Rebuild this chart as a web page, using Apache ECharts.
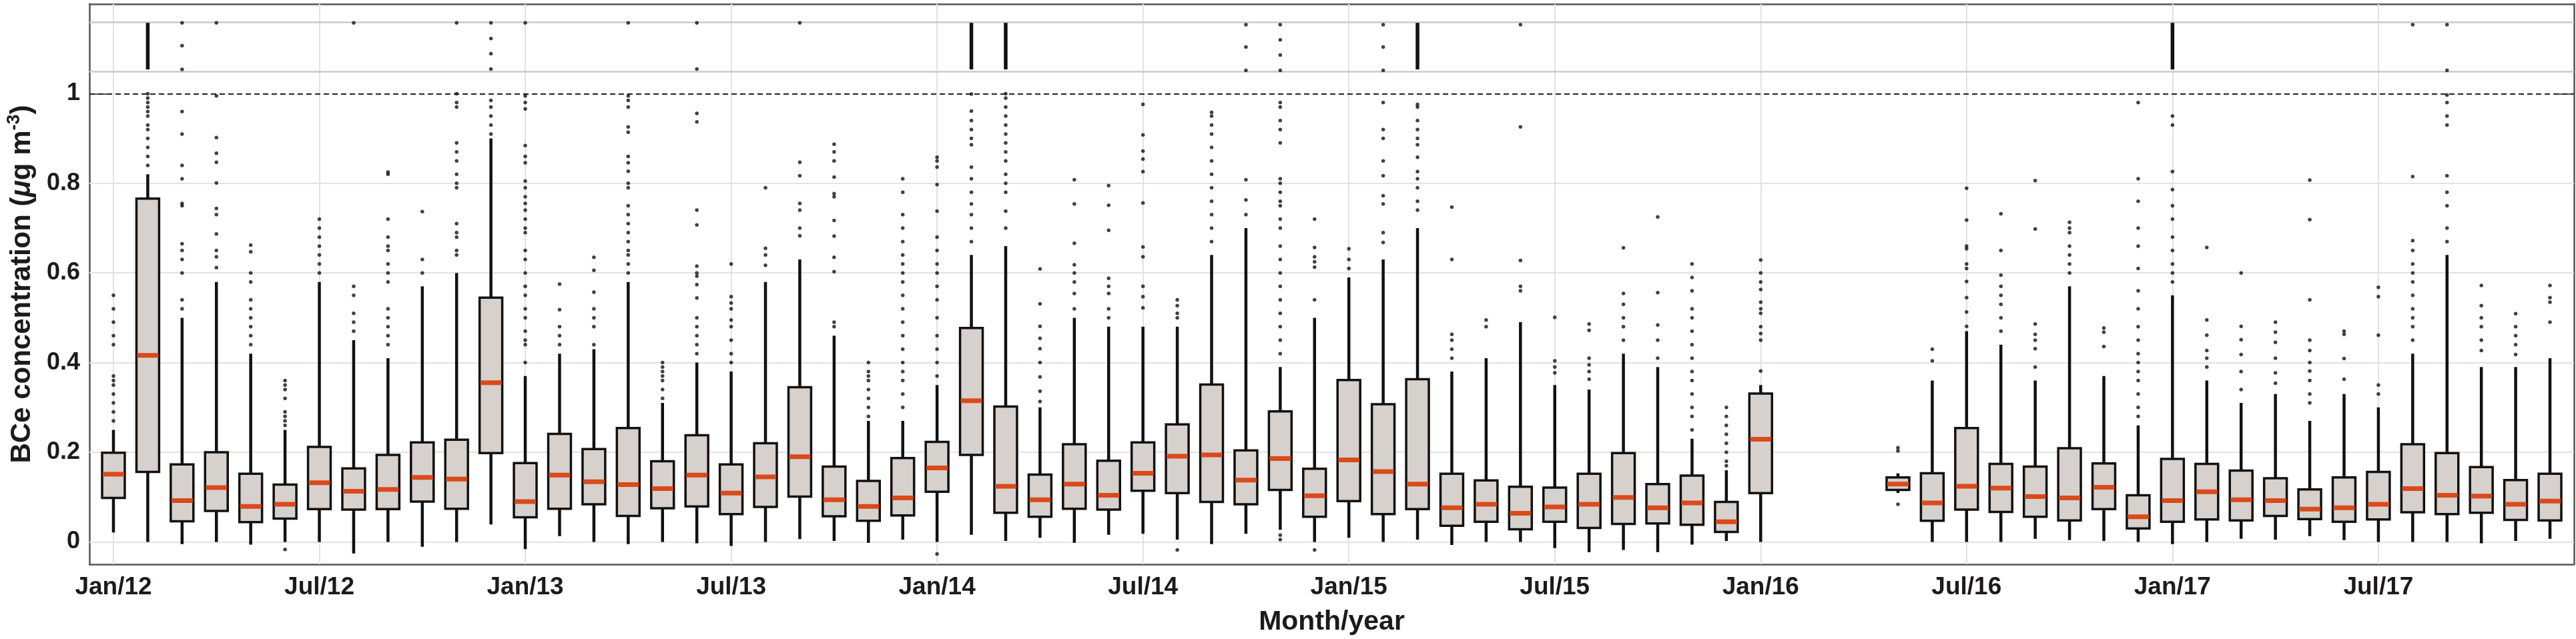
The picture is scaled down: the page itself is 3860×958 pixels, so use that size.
<!DOCTYPE html>
<html>
<head>
<meta charset="utf-8">
<script src="https://cdn.jsdelivr.net/npm/echarts@6/dist/echarts.min.js"></script>
<style>
	html, body { margin: 0; padding: 0; background: #fff; }
	#chart { width: 3860px; height: 958px; }
</style>
</head>
<body>
<div id="chart"></div>
<script>
// month index 0 = Jan/12 ... 71 = Dec/17
const tickMonths = [0, 6, 12, 18, 24, 30, 36, 42, 48, 54, 60, 66]
const tickLabels = ['Jan/12', 'Jul/12', 'Jan/13', 'Jul/13', 'Jan/14', 'Jul/14', 'Jan/15', 'Jul/15', 'Jan/16', 'Jul/16', 'Jan/17', 'Jul/17']
const yTicks = [0, 0.2, 0.4, 0.6, 0.8, 1]

// box statistics per month (null = no data)
const whiskerLow = [0.021, 0, -0.005, 0, -0.006, 0, 0, -0.026, 0, -0.011, 0, 0.039,
	-0.016, 0.013, 0, -0.005, 0, -0.003, -0.009, 0, 0.006, 0.002, -0.002, 0.005,
	0, 0.016, 0.002, 0.009, -0.002, 0.016, 0.018, 0.005, -0.005, 0.018, 0.027, 0,
	0.009, 0, 0.005, -0.007, 0, 0, -0.014, -0.023, -0.018, -0.023, -0.006, 0.002,
	0, null, null, null, 0.109, 0, 0, 0, 0.007, 0.004, 0.002, 0,
	-0.005, 0, 0.007, 0.005, 0.013, 0.004, 0, 0, 0, -0.003, 0.002, 0.007]
const q1 = [0.098, 0.156, 0.046, 0.069, 0.044, 0.052, 0.073, 0.072, 0.073, 0.09, 0.074, 0.198,
	0.055, 0.074, 0.084, 0.058, 0.075, 0.079, 0.062, 0.078, 0.101, 0.057, 0.047, 0.059,
	0.112, 0.194, 0.065, 0.056, 0.074, 0.072, 0.114, 0.109, 0.089, 0.084, 0.116, 0.056,
	0.091, 0.062, 0.073, 0.036, 0.045, 0.028, 0.045, 0.031, 0.04, 0.041, 0.038, 0.022,
	0.109, null, null, null, 0.116, 0.047, 0.072, 0.067, 0.056, 0.048, 0.073, 0.03,
	0.045, 0.05, 0.048, 0.058, 0.051, 0.045, 0.05, 0.066, 0.062, 0.065, 0.049, 0.048]
const median = [0.151, 0.416, 0.092, 0.121, 0.079, 0.084, 0.132, 0.113, 0.117, 0.144, 0.14, 0.355,
	0.09, 0.149, 0.134, 0.128, 0.119, 0.149, 0.109, 0.145, 0.19, 0.094, 0.079, 0.098,
	0.165, 0.315, 0.124, 0.094, 0.129, 0.104, 0.153, 0.191, 0.194, 0.138, 0.186, 0.103,
	0.183, 0.157, 0.129, 0.076, 0.084, 0.064, 0.078, 0.084, 0.099, 0.076, 0.087, 0.045,
	0.229, null, null, null, 0.129, 0.087, 0.124, 0.12, 0.101, 0.098, 0.122, 0.056,
	0.092, 0.112, 0.094, 0.092, 0.073, 0.076, 0.084, 0.119, 0.104, 0.102, 0.084, 0.091]
const q3 = [0.199, 0.766, 0.173, 0.2, 0.152, 0.128, 0.212, 0.164, 0.194, 0.222, 0.228, 0.545,
	0.176, 0.241, 0.207, 0.254, 0.18, 0.238, 0.173, 0.22, 0.345, 0.168, 0.136, 0.187,
	0.223, 0.477, 0.302, 0.15, 0.218, 0.181, 0.222, 0.262, 0.351, 0.204, 0.291, 0.163,
	0.361, 0.307, 0.363, 0.152, 0.137, 0.123, 0.121, 0.152, 0.198, 0.129, 0.148, 0.089,
	0.331, null, null, null, 0.144, 0.153, 0.254, 0.174, 0.168, 0.209, 0.175, 0.104,
	0.185, 0.174, 0.159, 0.142, 0.117, 0.144, 0.156, 0.218, 0.198, 0.167, 0.138, 0.152]
const whiskerHigh = [0.25, 0.82, 0.5, 0.58, 0.42, 0.25, 0.58, 0.45, 0.41, 0.57, 0.6, 0.9,
	0.37, 0.42, 0.43, 0.58, 0.31, 0.4, 0.38, 0.58, 0.63, 0.46, 0.27, 0.27,
	0.35, 0.64, 0.66, 0.3, 0.5, 0.48, 0.48, 0.48, 0.64, 0.7, 0.39, 0.5,
	0.59, 0.63, 0.7, 0.38, 0.41, 0.49, 0.35, 0.34, 0.42, 0.39, 0.23, 0.16,
	0.35, null, null, null, 0.153, 0.36, 0.47, 0.44, 0.36, 0.57, 0.37, 0.26,
	0.55, 0.36, 0.31, 0.33, 0.27, 0.33, 0.3, 0.42, 0.64, 0.39, 0.39, 0.41]

// individual outlying points per month
const outliers = [
	[0.27, 0.29, 0.31, 0.33, 0.35, 0.36, 0.37, 0.44, 0.46, 0.49, 0.52, 0.55],
	[0.84, 0.86, 0.88, 0.9, 0.92, 0.93, 0.95, 0.96, 0.97, 0.98, 0.99, 1.0],
	[0.52, 0.54, 0.6, 0.63, 0.65, 0.665, 0.75, 0.755, 0.81, 0.84, 0.91, 0.96, 1.054, 1.107, 1.158],
	[0.612, 0.636, 0.65, 0.687, 0.73, 0.744, 0.801, 0.847, 0.867, 0.902, 0.995, 1.158],
	[0.44, 0.46, 0.48, 0.5, 0.52, 0.54, 0.58, 0.6, 0.647, 0.662],
	[-0.017, 0.26, 0.27, 0.28, 0.29, 0.32, 0.34, 0.35, 0.36],
	[0.6, 0.62, 0.64, 0.66, 0.68, 0.7, 0.72],
	[0.47, 0.49, 0.51, 0.55, 0.57, 1.158],
	[0.44, 0.46, 0.48, 0.5, 0.52, 0.58, 0.6, 0.62, 0.65, 0.66, 0.68, 0.72, 0.82, 0.825],
	[0.6, 0.63, 0.737],
	[0.64, 0.65, 0.68, 0.69, 0.71, 0.79, 0.8, 0.82, 0.85, 0.87, 0.89, 0.97, 0.98, 1.0, 1.158],
	[0.91, 0.93, 0.95, 0.97, 0.985, 1.055, 1.089, 1.123, 1.158],
	[0.4, 0.44, 0.45, 0.47, 0.5, 0.52, 0.55, 0.57, 0.6, 0.63, 0.65, 0.69, 0.7, 0.72, 0.74, 0.755, 0.77, 0.79, 0.805, 0.846, 0.86, 0.884, 0.966, 0.98, 0.995, 1.158],
	[0.44, 0.46, 0.48, 0.518, 0.575],
	[0.44, 0.48, 0.5, 0.52, 0.557, 0.606, 0.635],
	[0.6, 0.62, 0.64, 0.65, 0.67, 0.69, 0.71, 0.73, 0.75, 0.79, 0.8, 0.827, 0.846, 0.86, 0.914, 0.926, 0.97, 0.985, 0.995, 1.158],
	[0.32, 0.34, 0.36, 0.37, 0.38, 0.39, 0.4],
	[0.42, 0.44, 0.46, 0.48, 0.5, 0.544, 0.574, 0.593, 0.6, 0.615, 0.707, 0.74, 0.937, 0.956, 1.055, 1.158],
	[0.4, 0.42, 0.45, 0.48, 0.495, 0.52, 0.533, 0.547, 0.62],
	[0.617, 0.64, 0.655, 0.79],
	[0.683, 0.7, 0.74, 0.755, 0.817, 0.847, 1.158],
	[0.48, 0.49, 0.603, 0.635, 0.682, 0.717, 0.77, 0.777, 0.814, 0.85, 0.87, 0.887],
	[0.28, 0.3, 0.32, 0.34, 0.36, 0.37, 0.38, 0.4],
	[0.3, 0.33, 0.36, 0.38, 0.4, 0.43, 0.46, 0.49, 0.52, 0.55, 0.58, 0.6, 0.62, 0.64, 0.67, 0.7, 0.73, 0.78, 0.81],
	[-0.027, 0.37, 0.4, 0.43, 0.46, 0.5, 0.54, 0.57, 0.6, 0.62, 0.65, 0.68, 0.738, 0.797, 0.836, 0.85, 0.858],
	[0.67, 0.7, 0.73, 0.754, 0.78, 0.81, 0.836, 0.886, 0.9, 0.92, 0.94, 0.961, 0.999],
	[0.7, 0.738, 0.78, 0.8, 0.82, 0.85, 0.87, 0.89, 0.91, 0.93, 0.95, 0.97, 0.99, 1.0],
	[0.313, 0.336, 0.368, 0.4, 0.431, 0.454, 0.481, 0.531, 0.609],
	[0.52, 0.554, 0.58, 0.6, 0.618, 0.666, 0.754, 0.808],
	[0.5, 0.52, 0.554, 0.57, 0.588, 0.695, 0.751, 0.795],
	[0.522, 0.547, 0.57, 0.636, 0.658, 0.756, 0.826, 0.854, 0.872, 0.908, 0.976],
	[-0.018, 0.5, 0.51, 0.527, 0.54],
	[0.67, 0.7, 0.73, 0.76, 0.79, 0.82, 0.85, 0.88, 0.91, 0.93, 0.95, 0.958],
	[0.73, 0.763, 0.808, 1.052, 1.104, 1.154],
	[0.005, 0.015, 0.42, 0.45, 0.48, 0.51, 0.54, 0.57, 0.6, 0.63, 0.66, 0.7, 0.72, 0.75, 0.76, 0.78, 0.8, 0.81, 0.89, 0.92, 0.94, 0.97, 0.98, 1.052, 1.086, 1.12, 1.154],
	[-0.018, 0.54, 0.613, 0.625, 0.636, 0.657, 0.72],
	[0.61, 0.63, 0.654],
	[0.668, 0.69, 0.754, 0.772, 0.817, 0.85, 0.9, 0.92, 0.98, 1.052, 1.104, 1.154],
	[0.74, 0.76, 0.79, 0.81, 0.826, 0.858, 0.886, 0.9, 0.92, 0.94, 0.97, 0.976],
	[0.41, 0.43, 0.45, 0.463, 0.63, 0.747],
	[0.48, 0.495],
	[0.56, 0.57, 0.628, 0.926, 1.154],
	[0.377, 0.39, 0.404, 0.501],
	[0.363, 0.38, 0.395, 0.41, 0.472, 0.486],
	[0.45, 0.48, 0.5, 0.53, 0.554, 0.656],
	[0.41, 0.45, 0.484, 0.556, 0.725],
	[0.25, 0.28, 0.3, 0.33, 0.36, 0.38, 0.41, 0.44, 0.47, 0.5, 0.52, 0.56, 0.59, 0.62],
	[0.17, 0.18, 0.2, 0.22, 0.24, 0.26, 0.28, 0.3],
	[0.381, 0.45, 0.465, 0.48, 0.51, 0.52, 0.535, 0.563, 0.58, 0.6, 0.629],
	[], [], [],
	[0.084, 0.203, 0.21],
	[0.404, 0.43],
	[0.481, 0.513, 0.545, 0.581, 0.61, 0.62, 0.654, 0.66, 0.718, 0.789],
	[0.47, 0.5, 0.53, 0.55, 0.57, 0.595, 0.65, 0.732],
	[0.39, 0.431, 0.45, 0.463, 0.486, 0.698, 0.806],
	[0.6, 0.62, 0.64, 0.66, 0.69, 0.7, 0.713],
	[0.436, 0.468, 0.477],
	[0.28, 0.3, 0.33, 0.36, 0.38, 0.4, 0.42, 0.45, 0.48, 0.52, 0.56, 0.61, 0.66, 0.7, 0.76, 0.81, 0.98],
	[0.58, 0.6, 0.62, 0.65, 0.68, 0.72, 0.75, 0.786, 0.826, 0.93, 0.95],
	[0.39, 0.41, 0.427, 0.461, 0.495, 0.657],
	[0.34, 0.38, 0.418, 0.451, 0.481, 0.6],
	[0.354, 0.377, 0.41, 0.445, 0.468, 0.49],
	[0.31, 0.33, 0.36, 0.381, 0.4, 0.427, 0.45, 0.54, 0.719, 0.807],
	[0.363, 0.409, 0.463, 0.47],
	[0.33, 0.35, 0.461, 0.547, 0.568],
	[0.45, 0.48, 0.5, 0.52, 0.55, 0.58, 0.6, 0.62, 0.65, 0.672, 0.815, 1.154],
	[0.67, 0.7, 0.75, 0.78, 0.817, 0.93, 0.95, 0.98, 0.997, 1.052, 1.154],
	[0.427, 0.45, 0.48, 0.5, 0.527, 0.572],
	[0.418, 0.44, 0.46, 0.48, 0.509],
	[0.49, 0.535, 0.545, 0.572]
]

// months whose values above 1 pile up in the top band
const topBandMonths = [1, 25, 26, 38, 60]
const topBand = [1.054, 1.158]
const gridValues = [0, 0.2, 0.4, 0.6, 0.8]
const limitValue = 1

const FONT = '"Liberation Sans", Arial, sans-serif'
const INK = '#1e1a1b'
const AXIS = '#555'

const boxData = []
const dotData = []
median.forEach((m, i) => {
	if (m === null) return
	boxData.push([i, whiskerLow[i], q1[i], m, q3[i], whiskerHigh[i]])
	outliers[i].forEach(v => dotData.push([i, v]))
})
const bandData = topBandMonths.map(i => [i, topBand[0], topBand[1]])

const chart = echarts.init(document.getElementById('chart'), null, { renderer: 'canvas' })

const tickStyle = { inside: true, length: 26, lineStyle: { color: AXIS, width: 2 } }

const option = {
	animation: false,
	backgroundColor: '#fff',
	grid: { left: 134, right: 3, top: 6, bottom: 112 },
	xAxis: [
		{
			type: 'value', min: -0.7, max: 71.7, position: 'bottom',
			name: 'Month/year', nameLocation: 'middle', nameGap: 66,
			nameTextStyle: { fontFamily: FONT, fontWeight: 'bold', fontSize: 41, color: INK },
			axisLine: { show: true, onZero: false, lineStyle: { color: AXIS, width: 2.5 } },
			axisTick: { ...tickStyle, customValues: tickMonths },
			axisLabel: {
				customValues: tickMonths, margin: 16,
				fontFamily: FONT, fontWeight: 'bold', fontSize: 37, color: INK,
				formatter: v => tickLabels[tickMonths.indexOf(v)] || ''
			},
			splitLine: { show: false }
		},
		{
			type: 'value', min: -0.7, max: 71.7, position: 'top',
			axisLine: { show: true, onZero: false, lineStyle: { color: AXIS, width: 2.5 } },
			axisTick: { ...tickStyle, customValues: tickMonths },
			axisLabel: { show: false },
			splitLine: { show: false }
		}
	],
	yAxis: [
		{
			type: 'value', min: -0.05, max: 1.2, position: 'left',
			name: '{t|BCe concentration (}{mu|μ}{t|g m}{sup|-3}{t|)}',
			nameLocation: 'middle', nameGap: 76, nameRotate: 90,
			nameTextStyle: {
				fontFamily: FONT, fontWeight: 'bold', fontSize: 42, color: INK,
				rich: {
					t: { fontFamily: FONT, fontWeight: 'bold', fontSize: 42, color: INK, lineHeight: 50 },
					mu: { fontFamily: FONT, fontWeight: 'bold', fontStyle: 'italic', fontSize: 42, color: INK, lineHeight: 50 },
					sup: { fontFamily: FONT, fontWeight: 'bold', fontSize: 27, color: INK, verticalAlign: 'top', lineHeight: 50, padding: [0, 0, 14, 0] }
				}
			},
			axisLine: { show: true, onZero: false, lineStyle: { color: AXIS, width: 2.5 } },
			axisTick: { ...tickStyle, customValues: yTicks },
			axisLabel: {
				customValues: yTicks, margin: 14,
				fontFamily: FONT, fontWeight: 'bold', fontSize: 36, color: INK,
				formatter: v => String(+v.toFixed(1))
			},
			splitLine: { show: false }
		},
		{
			type: 'value', min: -0.05, max: 1.2, position: 'right',
			axisLine: { show: true, onZero: false, lineStyle: { color: AXIS, width: 2.5 } },
			axisTick: { ...tickStyle, customValues: yTicks },
			axisLabel: { show: false },
			splitLine: { show: false }
		}
	],
	series: [
		{
			// reference lines: grid, top band edges, 1.0 limit
			type: 'line', data: [], silent: true, z: 1,
			markLine: {
				silent: true, symbol: 'none', label: { show: false }, animation: false, z: 1,
				data: [
					...gridValues.map(v => ({ yAxis: v, lineStyle: { color: '#e4e1df', width: 2, type: 'solid' } })),
					...tickMonths.map(v => ({ xAxis: v, lineStyle: { color: '#e4e1df', width: 2, type: 'solid' } })),
					...topBand.map(v => ({ yAxis: v, lineStyle: { color: '#ccc8c4', width: 2.5, type: 'solid' } })),
					{ yAxis: limitValue, lineStyle: { color: '#222', width: 2, type: [8, 5] } }
				]
			}
		},
		{
			type: 'custom', data: bandData, z: 3,
			encode: { x: 0, y: [1, 2] },
			renderItem: (params, api) => {
				const a = api.coord([api.value(0), api.value(1)])
				const b = api.coord([api.value(0), api.value(2)])
				return {
					type: 'line',
					shape: { x1: a[0], y1: a[1], x2: b[0], y2: b[1] },
					style: { stroke: '#111', lineWidth: 5.5 }
				}
			}
		},
		{
			type: 'scatter', data: dotData, z: 3,
			symbol: 'circle', symbolSize: 5.5,
			itemStyle: { color: '#111' }
		},
		{
			type: 'custom', data: boxData, z: 4,
			encode: { x: 0, y: [1, 2, 3, 4, 5] },
			renderItem: (params, api) => {
				const x = api.value(0)
				const lo = api.coord([x, api.value(1)])
				const pQ1 = api.coord([x, api.value(2)])
				const pMed = api.coord([x, api.value(3)])
				const pQ3 = api.coord([x, api.value(4)])
				const hi = api.coord([x, api.value(5)])
				const half = api.size([0.66, 0])[0] / 2
				return {
					type: 'group',
					children: [
						{
							type: 'line',
							shape: { x1: lo[0], y1: lo[1], x2: hi[0], y2: hi[1] },
							style: { stroke: '#111', lineWidth: 4.5 }
						},
						{
							type: 'rect',
							shape: { x: pQ1[0] - half, y: pQ3[1], width: half * 2, height: pQ1[1] - pQ3[1] },
							style: { fill: '#d6d1cd', stroke: '#111', lineWidth: 3.5 }
						},
						{
							type: 'rect',
							shape: { x: pMed[0] - half + 1, y: pMed[1] - 3.5, width: half * 2 - 2, height: 7 },
							style: { fill: '#da4a1b' }
						}
					]
				}
			}
		}
	]
}

chart.setOption(option)
</script>
</body>
</html>
